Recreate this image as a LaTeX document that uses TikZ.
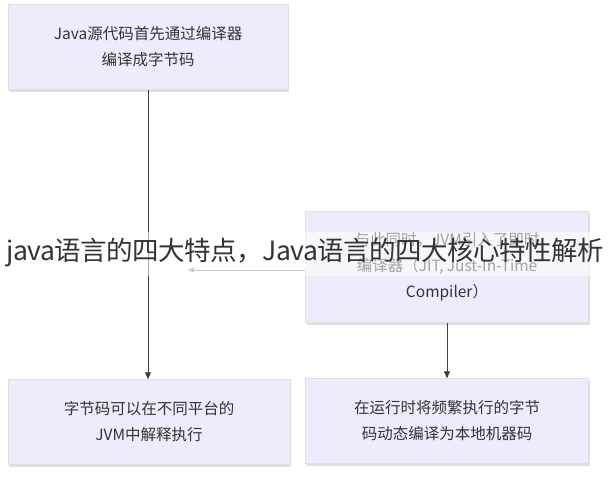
\documentclass[tikz,border=0pt]{standalone}
\usepackage{fontspec}
\setmainfont{Noto Sans CJK SC}
\usetikzlibrary{arrows.meta,shadows}
\begin{document}
\begin{tikzpicture}[x=1pt,y=-1pt,
  box/.style={draw=black!12,fill={rgb,255:red,236;green,236;blue,252},
    drop shadow={shadow xshift=1pt,shadow yshift=-2pt,opacity=0.25},
    align=center,font=\fontsize{15.5}{26}\selectfont,text=black!80},
  arr/.style={draw=black!75,line width=0.8pt,-{Triangle[length=7pt,width=6pt]}}]
\useasboundingbox[fill=white] (0,0) rectangle (610,490);
\node[box,minimum width=280pt,minimum height=85pt] (src) at (148,47) {Java源代码首先通过编译器\\编译成字节码};
\node[box,minimum width=283pt,minimum height=111pt] (jit) at (447,267) {与此同时，JVM引入了即时\\编译器（JIT, Just-In-Time\\Compiler）};
\node[box,minimum width=282pt,minimum height=85pt] (interp) at (149,422) {字节码可以在不同平台的\\JVM中解释执行};
\node[box,minimum width=283pt,minimum height=85pt] (native) at (447,421) {在运行时将频繁执行的字节\\码动态编译为本地机器码};
\coordinate (free) at (188,270);
\draw[arr] (src.south -| 148,0) -- (interp.north -| 148,0);
\draw[arr] (jit.south) -- (native.north);
\draw[draw=black!45,line width=0.6pt,-{Triangle[length=6pt,width=5pt]}] (jit.west |- free) -- (free);
\fill[white,opacity=0.55] (0,232) rectangle (610,276);
\node[font=\fontsize{26.5}{30}\selectfont\addfontfeature{LetterSpace=-2},text=black!80,inner sep=0] (wm) at (305,253) {java语言的四大特点，Java语言的四大核心特性解析};
\end{tikzpicture}
\end{document}
